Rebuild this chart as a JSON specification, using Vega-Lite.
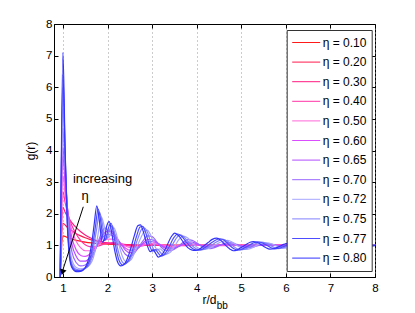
{
"$schema":"https://vega.github.io/schema/vega-lite/v6.json",
"width":321,"height":253,
"autosize":{"type":"none"},
"padding":{"left":54,"top":24,"right":40,"bottom":36},
"config":{"font":"Liberation Sans","view":{"stroke":"#000","strokeWidth":1},
"axis":{"labelFont":"Liberation Sans","titleFont":"Liberation Sans","labelFontSize":11.5,"titleFontSize":12,"titleFontWeight":"normal","labelColor":"#000","titleColor":"#000","domainColor":"#000","tickColor":"#000"}},
"resolve":{"axis":{"x":"independent","y":"independent"}},
"layer":[
{"data":{"values":[
{"eta":"0.10","r":0.94,"g":0},{"eta":"0.10","r":1.0,"g":1.3},{"eta":"0.10","r":1.1,"g":1.25},{"eta":"0.10","r":1.2,"g":1.2},{"eta":"0.10","r":1.3,"g":1.16},{"eta":"0.10","r":1.4,"g":1.13},{"eta":"0.10","r":1.5,"g":1.1},{"eta":"0.10","r":1.7,"g":1.07},{"eta":"0.10","r":2.0,"g":1.04},{"eta":"0.10","r":2.5,"g":1.01},{"eta":"0.10","r":3.0,"g":1.0},{"eta":"0.10","r":4.0,"g":1.0},{"eta":"0.10","r":6.0,"g":1.0},{"eta":"0.10","r":8.0,"g":1.0},
{"eta":"0.20","r":0.94,"g":0},{"eta":"0.20","r":1.0,"g":1.7},{"eta":"0.20","r":1.1,"g":1.57},{"eta":"0.20","r":1.2,"g":1.46},{"eta":"0.20","r":1.3,"g":1.37},{"eta":"0.20","r":1.4,"g":1.3},{"eta":"0.20","r":1.5,"g":1.24},{"eta":"0.20","r":1.6,"g":1.19},{"eta":"0.20","r":1.8,"g":1.12},{"eta":"0.20","r":2.0,"g":1.07},{"eta":"0.20","r":2.2,"g":1.04},{"eta":"0.20","r":2.5,"g":1.02},{"eta":"0.20","r":3.0,"g":1.0},{"eta":"0.20","r":4.0,"g":1.0},{"eta":"0.20","r":6.0,"g":1.0},{"eta":"0.20","r":8.0,"g":1.0},
{"eta":"0.30","r":0.94,"g":0},{"eta":"0.30","r":1.0,"g":2.2},{"eta":"0.30","r":1.05,"g":2.05},{"eta":"0.30","r":1.1,"g":1.92},{"eta":"0.30","r":1.2,"g":1.72},{"eta":"0.30","r":1.3,"g":1.56},{"eta":"0.30","r":1.4,"g":1.43},{"eta":"0.30","r":1.5,"g":1.33},{"eta":"0.30","r":1.6,"g":1.25},{"eta":"0.30","r":1.8,"g":1.13},{"eta":"0.30","r":2.0,"g":1.07},{"eta":"0.30","r":2.2,"g":1.04},{"eta":"0.30","r":2.5,"g":1.02},{"eta":"0.30","r":3.0,"g":1.0},{"eta":"0.30","r":4.0,"g":1.0},{"eta":"0.30","r":6.0,"g":1.0},{"eta":"0.30","r":8.0,"g":1.0},
{"eta":"0.40","r":0.94,"g":0},{"eta":"0.40","r":1.0,"g":2.7},{"eta":"0.40","r":1.05,"g":2.35},{"eta":"0.40","r":1.1,"g":2.05},{"eta":"0.40","r":1.15,"g":1.82},{"eta":"0.40","r":1.2,"g":1.63},{"eta":"0.40","r":1.3,"g":1.35},{"eta":"0.40","r":1.4,"g":1.15},{"eta":"0.40","r":1.5,"g":1.02},{"eta":"0.40","r":1.6,"g":0.96},{"eta":"0.40","r":1.7,"g":0.95},{"eta":"0.40","r":1.8,"g":0.98},{"eta":"0.40","r":1.9,"g":1.03},{"eta":"0.40","r":2.0,"g":1.07},{"eta":"0.40","r":2.1,"g":1.09},{"eta":"0.40","r":2.2,"g":1.08},{"eta":"0.40","r":2.3,"g":1.05},{"eta":"0.40","r":2.4,"g":1.01},{"eta":"0.40","r":2.6,"g":0.97},{"eta":"0.40","r":2.8,"g":0.99},{"eta":"0.40","r":3.0,"g":1.02},{"eta":"0.40","r":3.2,"g":1.01},{"eta":"0.40","r":3.5,"g":0.99},{"eta":"0.40","r":4.0,"g":1.0},{"eta":"0.40","r":6.0,"g":1.0},{"eta":"0.40","r":8.0,"g":1.0},
{"eta":"0.50","r":0.94,"g":0},{"eta":"0.50","r":1.0,"g":3.2},{"eta":"0.50","r":1.05,"g":2.6},{"eta":"0.50","r":1.1,"g":2.1},{"eta":"0.50","r":1.15,"g":1.75},{"eta":"0.50","r":1.2,"g":1.48},{"eta":"0.50","r":1.3,"g":1.12},{"eta":"0.50","r":1.4,"g":0.92},{"eta":"0.50","r":1.5,"g":0.83},{"eta":"0.50","r":1.6,"g":0.83},{"eta":"0.50","r":1.7,"g":0.9},{"eta":"0.50","r":1.8,"g":1.02},{"eta":"0.50","r":1.9,"g":1.13},{"eta":"0.50","r":2.0,"g":1.2},{"eta":"0.50","r":2.1,"g":1.2},{"eta":"0.50","r":2.2,"g":1.14},{"eta":"0.50","r":2.3,"g":1.06},{"eta":"0.50","r":2.4,"g":0.98},{"eta":"0.50","r":2.5,"g":0.93},{"eta":"0.50","r":2.6,"g":0.92},{"eta":"0.50","r":2.7,"g":0.95},{"eta":"0.50","r":2.8,"g":1.0},{"eta":"0.50","r":2.9,"g":1.05},{"eta":"0.50","r":3.0,"g":1.06},{"eta":"0.50","r":3.1,"g":1.05},{"eta":"0.50","r":3.2,"g":1.02},{"eta":"0.50","r":3.4,"g":0.97},{"eta":"0.50","r":3.6,"g":0.99},{"eta":"0.50","r":3.8,"g":1.02},{"eta":"0.50","r":4.0,"g":1.01},{"eta":"0.50","r":4.5,"g":0.99},{"eta":"0.50","r":5.0,"g":1.0},{"eta":"0.50","r":6.0,"g":1.0},{"eta":"0.50","r":8.0,"g":1.0},
{"eta":"0.60","r":0.94,"g":0},{"eta":"0.60","r":1.0,"g":3.8},{"eta":"0.60","r":1.05,"g":2.95},{"eta":"0.60","r":1.1,"g":2.2},{"eta":"0.60","r":1.15,"g":1.65},{"eta":"0.60","r":1.2,"g":1.25},{"eta":"0.60","r":1.3,"g":0.85},{"eta":"0.60","r":1.4,"g":0.68},{"eta":"0.60","r":1.5,"g":0.65},{"eta":"0.60","r":1.6,"g":0.72},{"eta":"0.60","r":1.7,"g":0.88},{"eta":"0.60","r":1.8,"g":1.08},{"eta":"0.60","r":1.9,"g":1.27},{"eta":"0.60","r":2.0,"g":1.35},{"eta":"0.60","r":2.1,"g":1.32},{"eta":"0.60","r":2.2,"g":1.2},{"eta":"0.60","r":2.3,"g":1.05},{"eta":"0.60","r":2.4,"g":0.92},{"eta":"0.60","r":2.5,"g":0.85},{"eta":"0.60","r":2.6,"g":0.86},{"eta":"0.60","r":2.7,"g":0.94},{"eta":"0.60","r":2.8,"g":1.04},{"eta":"0.60","r":2.9,"g":1.11},{"eta":"0.60","r":3.0,"g":1.12},{"eta":"0.60","r":3.1,"g":1.08},{"eta":"0.60","r":3.2,"g":1.01},{"eta":"0.60","r":3.3,"g":0.95},{"eta":"0.60","r":3.4,"g":0.92},{"eta":"0.60","r":3.5,"g":0.93},{"eta":"0.60","r":3.6,"g":0.97},{"eta":"0.60","r":3.7,"g":1.02},{"eta":"0.60","r":3.8,"g":1.06},{"eta":"0.60","r":3.9,"g":1.06},{"eta":"0.60","r":4.0,"g":1.03},{"eta":"0.60","r":4.2,"g":0.97},{"eta":"0.60","r":4.4,"g":0.98},{"eta":"0.60","r":4.6,"g":1.02},{"eta":"0.60","r":4.8,"g":1.02},{"eta":"0.60","r":5.0,"g":0.99},{"eta":"0.60","r":5.5,"g":1.01},{"eta":"0.60","r":6.0,"g":1.0},{"eta":"0.60","r":8.0,"g":1.0},
{"eta":"0.65","r":0.94,"g":0},{"eta":"0.65","r":1.0,"g":4.1},{"eta":"0.65","r":1.05,"g":3.1},{"eta":"0.65","r":1.1,"g":2.2},{"eta":"0.65","r":1.15,"g":1.5},{"eta":"0.65","r":1.2,"g":1.05},{"eta":"0.65","r":1.3,"g":0.65},{"eta":"0.65","r":1.4,"g":0.5},{"eta":"0.65","r":1.5,"g":0.5},{"eta":"0.65","r":1.6,"g":0.6},{"eta":"0.65","r":1.7,"g":0.8},{"eta":"0.65","r":1.8,"g":1.1},{"eta":"0.65","r":1.9,"g":1.35},{"eta":"0.65","r":2.0,"g":1.45},{"eta":"0.65","r":2.1,"g":1.4},{"eta":"0.65","r":2.2,"g":1.25},{"eta":"0.65","r":2.3,"g":1.05},{"eta":"0.65","r":2.4,"g":0.85},{"eta":"0.65","r":2.5,"g":0.77},{"eta":"0.65","r":2.6,"g":0.8},{"eta":"0.65","r":2.7,"g":0.93},{"eta":"0.65","r":2.8,"g":1.08},{"eta":"0.65","r":2.9,"g":1.18},{"eta":"0.65","r":3.0,"g":1.18},{"eta":"0.65","r":3.1,"g":1.1},{"eta":"0.65","r":3.2,"g":0.99},{"eta":"0.65","r":3.3,"g":0.91},{"eta":"0.65","r":3.4,"g":0.88},{"eta":"0.65","r":3.5,"g":0.9},{"eta":"0.65","r":3.6,"g":0.97},{"eta":"0.65","r":3.7,"g":1.05},{"eta":"0.65","r":3.8,"g":1.1},{"eta":"0.65","r":3.9,"g":1.1},{"eta":"0.65","r":4.0,"g":1.05},{"eta":"0.65","r":4.1,"g":0.99},{"eta":"0.65","r":4.2,"g":0.95},{"eta":"0.65","r":4.3,"g":0.94},{"eta":"0.65","r":4.4,"g":0.96},{"eta":"0.65","r":4.5,"g":1.0},{"eta":"0.65","r":4.6,"g":1.04},{"eta":"0.65","r":4.7,"g":1.05},{"eta":"0.65","r":4.8,"g":1.04},{"eta":"0.65","r":4.9,"g":1.01},{"eta":"0.65","r":5.0,"g":0.98},{"eta":"0.65","r":5.2,"g":0.96},{"eta":"0.65","r":5.4,"g":1.0},{"eta":"0.65","r":5.6,"g":1.03},{"eta":"0.65","r":5.8,"g":1.0},{"eta":"0.65","r":6.0,"g":0.98},{"eta":"0.65","r":6.5,"g":1.02},{"eta":"0.65","r":7.0,"g":0.99},{"eta":"0.65","r":7.5,"g":1.01},{"eta":"0.65","r":8.0,"g":1.0},
{"eta":"0.70","r":0.94,"g":0},{"eta":"0.70","r":1.0,"g":4.7},{"eta":"0.70","r":1.05,"g":3.4},{"eta":"0.70","r":1.1,"g":2.2},{"eta":"0.70","r":1.15,"g":1.3},{"eta":"0.70","r":1.2,"g":0.8},{"eta":"0.70","r":1.3,"g":0.45},{"eta":"0.70","r":1.4,"g":0.35},{"eta":"0.70","r":1.5,"g":0.38},{"eta":"0.70","r":1.6,"g":0.5},{"eta":"0.70","r":1.7,"g":0.75},{"eta":"0.70","r":1.8,"g":1.15},{"eta":"0.70","r":1.9,"g":1.5},{"eta":"0.70","r":1.95,"g":1.55},{"eta":"0.70","r":2.0,"g":1.48},{"eta":"0.70","r":2.05,"g":1.45},{"eta":"0.70","r":2.1,"g":1.45},{"eta":"0.70","r":2.2,"g":1.25},{"eta":"0.70","r":2.3,"g":0.95},{"eta":"0.70","r":2.4,"g":0.72},{"eta":"0.70","r":2.5,"g":0.65},{"eta":"0.70","r":2.6,"g":0.75},{"eta":"0.70","r":2.7,"g":0.95},{"eta":"0.70","r":2.8,"g":1.15},{"eta":"0.70","r":2.9,"g":1.3},{"eta":"0.70","r":3.0,"g":1.28},{"eta":"0.70","r":3.1,"g":1.12},{"eta":"0.70","r":3.2,"g":0.95},{"eta":"0.70","r":3.3,"g":0.85},{"eta":"0.70","r":3.4,"g":0.83},{"eta":"0.70","r":3.5,"g":0.88},{"eta":"0.70","r":3.6,"g":0.98},{"eta":"0.70","r":3.7,"g":1.1},{"eta":"0.70","r":3.8,"g":1.18},{"eta":"0.70","r":3.9,"g":1.16},{"eta":"0.70","r":4.0,"g":1.08},{"eta":"0.70","r":4.1,"g":0.98},{"eta":"0.70","r":4.2,"g":0.92},{"eta":"0.70","r":4.3,"g":0.9},{"eta":"0.70","r":4.4,"g":0.93},{"eta":"0.70","r":4.5,"g":0.99},{"eta":"0.70","r":4.6,"g":1.05},{"eta":"0.70","r":4.7,"g":1.09},{"eta":"0.70","r":4.8,"g":1.08},{"eta":"0.70","r":4.9,"g":1.03},{"eta":"0.70","r":5.0,"g":0.97},{"eta":"0.70","r":5.1,"g":0.93},{"eta":"0.70","r":5.2,"g":0.93},{"eta":"0.70","r":5.3,"g":0.96},{"eta":"0.70","r":5.4,"g":1.01},{"eta":"0.70","r":5.5,"g":1.05},{"eta":"0.70","r":5.6,"g":1.06},{"eta":"0.70","r":5.7,"g":1.03},{"eta":"0.70","r":5.8,"g":0.99},{"eta":"0.70","r":5.9,"g":0.96},{"eta":"0.70","r":6.0,"g":0.96},{"eta":"0.70","r":6.25,"g":1.02},{"eta":"0.70","r":6.5,"g":1.03},{"eta":"0.70","r":6.75,"g":0.98},{"eta":"0.70","r":7.0,"g":0.98},{"eta":"0.70","r":7.5,"g":1.01},{"eta":"0.70","r":8.0,"g":1.0},
{"eta":"0.72","r":0.94,"g":0},{"eta":"0.72","r":1.0,"g":5.3},{"eta":"0.72","r":1.05,"g":3.6},{"eta":"0.72","r":1.1,"g":2.0},{"eta":"0.72","r":1.15,"g":1.0},{"eta":"0.72","r":1.2,"g":0.55},{"eta":"0.72","r":1.3,"g":0.3},{"eta":"0.72","r":1.4,"g":0.26},{"eta":"0.72","r":1.5,"g":0.28},{"eta":"0.72","r":1.6,"g":0.38},{"eta":"0.72","r":1.68,"g":0.6},{"eta":"0.72","r":1.74,"g":0.95},{"eta":"0.72","r":1.8,"g":1.45},{"eta":"0.72","r":1.86,"g":1.9},{"eta":"0.72","r":1.92,"g":1.65},{"eta":"0.72","r":1.98,"g":1.25},{"eta":"0.72","r":2.03,"g":1.25},{"eta":"0.72","r":2.09,"g":1.45},{"eta":"0.72","r":2.15,"g":1.55},{"eta":"0.72","r":2.21,"g":1.3},{"eta":"0.72","r":2.28,"g":0.9},{"eta":"0.72","r":2.35,"g":0.6},{"eta":"0.72","r":2.43,"g":0.47},{"eta":"0.72","r":2.53,"g":0.55},{"eta":"0.72","r":2.63,"g":0.85},{"eta":"0.72","r":2.74,"g":1.22},{"eta":"0.72","r":2.83,"g":1.45},{"eta":"0.72","r":2.89,"g":1.48},{"eta":"0.72","r":2.96,"g":1.35},{"eta":"0.72","r":3.04,"g":1.05},{"eta":"0.72","r":3.12,"g":0.86},{"eta":"0.72","r":3.18,"g":0.89},{"eta":"0.72","r":3.24,"g":0.82},{"eta":"0.72","r":3.31,"g":0.72},{"eta":"0.72","r":3.4,"g":0.77},{"eta":"0.72","r":3.5,"g":0.96},{"eta":"0.72","r":3.6,"g":1.18},{"eta":"0.72","r":3.7,"g":1.29},{"eta":"0.72","r":3.8,"g":1.23},{"eta":"0.72","r":3.9,"g":1.08},{"eta":"0.72","r":4.0,"g":0.95},{"eta":"0.72","r":4.1,"g":0.88},{"eta":"0.72","r":4.18,"g":0.87},{"eta":"0.72","r":4.27,"g":0.9},{"eta":"0.72","r":4.38,"g":0.98},{"eta":"0.72","r":4.49,"g":1.07},{"eta":"0.72","r":4.6,"g":1.13},{"eta":"0.72","r":4.7,"g":1.16},{"eta":"0.72","r":4.8,"g":1.1},{"eta":"0.72","r":4.9,"g":1.0},{"eta":"0.72","r":5.0,"g":0.91},{"eta":"0.72","r":5.08,"g":0.87},{"eta":"0.72","r":5.18,"g":0.89},{"eta":"0.72","r":5.28,"g":0.95},{"eta":"0.72","r":5.39,"g":1.03},{"eta":"0.72","r":5.5,"g":1.07},{"eta":"0.72","r":5.58,"g":1.08},{"eta":"0.72","r":5.68,"g":1.05},{"eta":"0.72","r":5.78,"g":0.99},{"eta":"0.72","r":5.88,"g":0.93},{"eta":"0.72","r":5.98,"g":0.91},{"eta":"0.72","r":6.1,"g":0.94},{"eta":"0.72","r":6.25,"g":1.02},{"eta":"0.72","r":6.4,"g":1.05},{"eta":"0.72","r":6.6,"g":1.0},{"eta":"0.72","r":6.8,"g":0.96},{"eta":"0.72","r":7.0,"g":0.99},{"eta":"0.72","r":7.25,"g":1.03},{"eta":"0.72","r":7.5,"g":1.0},{"eta":"0.72","r":7.75,"g":0.98},{"eta":"0.72","r":8.0,"g":1.0},
{"eta":"0.75","r":0.94,"g":0},{"eta":"0.75","r":1.0,"g":6.0},{"eta":"0.75","r":1.05,"g":3.8},{"eta":"0.75","r":1.1,"g":1.8},{"eta":"0.75","r":1.15,"g":0.8},{"eta":"0.75","r":1.2,"g":0.42},{"eta":"0.75","r":1.3,"g":0.24},{"eta":"0.75","r":1.4,"g":0.22},{"eta":"0.75","r":1.5,"g":0.27},{"eta":"0.75","r":1.6,"g":0.42},{"eta":"0.75","r":1.65,"g":0.65},{"eta":"0.75","r":1.7,"g":1.05},{"eta":"0.75","r":1.76,"g":1.55},{"eta":"0.75","r":1.82,"g":2.05},{"eta":"0.75","r":1.88,"g":1.72},{"eta":"0.75","r":1.94,"g":1.2},{"eta":"0.75","r":1.99,"g":1.22},{"eta":"0.75","r":2.05,"g":1.5},{"eta":"0.75","r":2.11,"g":1.62},{"eta":"0.75","r":2.17,"g":1.32},{"eta":"0.75","r":2.23,"g":0.88},{"eta":"0.75","r":2.3,"g":0.56},{"eta":"0.75","r":2.38,"g":0.42},{"eta":"0.75","r":2.48,"g":0.5},{"eta":"0.75","r":2.58,"g":0.82},{"eta":"0.75","r":2.69,"g":1.25},{"eta":"0.75","r":2.77,"g":1.52},{"eta":"0.75","r":2.83,"g":1.55},{"eta":"0.75","r":2.9,"g":1.4},{"eta":"0.75","r":2.98,"g":1.05},{"eta":"0.75","r":3.06,"g":0.84},{"eta":"0.75","r":3.12,"g":0.88},{"eta":"0.75","r":3.18,"g":0.79},{"eta":"0.75","r":3.25,"g":0.69},{"eta":"0.75","r":3.33,"g":0.74},{"eta":"0.75","r":3.43,"g":0.95},{"eta":"0.75","r":3.53,"g":1.2},{"eta":"0.75","r":3.63,"g":1.33},{"eta":"0.75","r":3.72,"g":1.26},{"eta":"0.75","r":3.82,"g":1.1},{"eta":"0.75","r":3.93,"g":0.95},{"eta":"0.75","r":4.03,"g":0.87},{"eta":"0.75","r":4.1,"g":0.86},{"eta":"0.75","r":4.19,"g":0.89},{"eta":"0.75","r":4.29,"g":0.97},{"eta":"0.75","r":4.4,"g":1.07},{"eta":"0.75","r":4.5,"g":1.15},{"eta":"0.75","r":4.6,"g":1.19},{"eta":"0.75","r":4.7,"g":1.12},{"eta":"0.75","r":4.8,"g":1.0},{"eta":"0.75","r":4.9,"g":0.9},{"eta":"0.75","r":4.98,"g":0.86},{"eta":"0.75","r":5.08,"g":0.88},{"eta":"0.75","r":5.18,"g":0.95},{"eta":"0.75","r":5.28,"g":1.03},{"eta":"0.75","r":5.38,"g":1.08},{"eta":"0.75","r":5.45,"g":1.1},{"eta":"0.75","r":5.55,"g":1.07},{"eta":"0.75","r":5.65,"g":1.0},{"eta":"0.75","r":5.75,"g":0.93},{"eta":"0.75","r":5.83,"g":0.9},{"eta":"0.75","r":5.93,"g":0.92},{"eta":"0.75","r":6.05,"g":0.98},{"eta":"0.75","r":6.15,"g":1.04},{"eta":"0.75","r":6.3,"g":1.06},{"eta":"0.75","r":6.5,"g":1.0},{"eta":"0.75","r":6.75,"g":0.96},{"eta":"0.75","r":7.0,"g":1.02},{"eta":"0.75","r":7.25,"g":1.03},{"eta":"0.75","r":7.5,"g":0.98},{"eta":"0.75","r":7.75,"g":0.99},{"eta":"0.75","r":8.0,"g":1.01},
{"eta":"0.77","r":0.94,"g":0},{"eta":"0.77","r":1.0,"g":6.4},{"eta":"0.77","r":1.05,"g":3.9},{"eta":"0.77","r":1.1,"g":1.7},{"eta":"0.77","r":1.15,"g":0.7},{"eta":"0.77","r":1.2,"g":0.35},{"eta":"0.77","r":1.3,"g":0.2},{"eta":"0.77","r":1.4,"g":0.2},{"eta":"0.77","r":1.5,"g":0.28},{"eta":"0.77","r":1.58,"g":0.45},{"eta":"0.77","r":1.63,"g":0.7},{"eta":"0.77","r":1.68,"g":1.1},{"eta":"0.77","r":1.73,"g":1.6},{"eta":"0.77","r":1.79,"g":2.15},{"eta":"0.77","r":1.85,"g":1.75},{"eta":"0.77","r":1.91,"g":1.15},{"eta":"0.77","r":1.96,"g":1.2},{"eta":"0.77","r":2.02,"g":1.55},{"eta":"0.77","r":2.08,"g":1.7},{"eta":"0.77","r":2.14,"g":1.35},{"eta":"0.77","r":2.2,"g":0.85},{"eta":"0.77","r":2.26,"g":0.52},{"eta":"0.77","r":2.34,"g":0.38},{"eta":"0.77","r":2.44,"g":0.47},{"eta":"0.77","r":2.55,"g":0.8},{"eta":"0.77","r":2.65,"g":1.28},{"eta":"0.77","r":2.73,"g":1.58},{"eta":"0.77","r":2.79,"g":1.6},{"eta":"0.77","r":2.85,"g":1.43},{"eta":"0.77","r":2.93,"g":1.05},{"eta":"0.77","r":3.01,"g":0.82},{"eta":"0.77","r":3.07,"g":0.87},{"eta":"0.77","r":3.13,"g":0.77},{"eta":"0.77","r":3.2,"g":0.66},{"eta":"0.77","r":3.28,"g":0.72},{"eta":"0.77","r":3.38,"g":0.95},{"eta":"0.77","r":3.48,"g":1.23},{"eta":"0.77","r":3.58,"g":1.36},{"eta":"0.77","r":3.67,"g":1.28},{"eta":"0.77","r":3.77,"g":1.1},{"eta":"0.77","r":3.87,"g":0.94},{"eta":"0.77","r":3.97,"g":0.86},{"eta":"0.77","r":4.05,"g":0.85},{"eta":"0.77","r":4.13,"g":0.88},{"eta":"0.77","r":4.23,"g":0.97},{"eta":"0.77","r":4.33,"g":1.08},{"eta":"0.77","r":4.43,"g":1.17},{"eta":"0.77","r":4.53,"g":1.21},{"eta":"0.77","r":4.64,"g":1.14},{"eta":"0.77","r":4.74,"g":1.0},{"eta":"0.77","r":4.84,"g":0.89},{"eta":"0.77","r":4.91,"g":0.85},{"eta":"0.77","r":5.0,"g":0.87},{"eta":"0.77","r":5.1,"g":0.94},{"eta":"0.77","r":5.2,"g":1.02},{"eta":"0.77","r":5.3,"g":1.09},{"eta":"0.77","r":5.37,"g":1.11},{"eta":"0.77","r":5.45,"g":1.09},{"eta":"0.77","r":5.55,"g":1.02},{"eta":"0.77","r":5.65,"g":0.94},{"eta":"0.77","r":5.75,"g":0.89},{"eta":"0.77","r":5.85,"g":0.91},{"eta":"0.77","r":5.96,"g":0.97},{"eta":"0.77","r":6.07,"g":1.04},{"eta":"0.77","r":6.17,"g":1.07},{"eta":"0.77","r":6.3,"g":1.03},{"eta":"0.77","r":6.5,"g":0.95},{"eta":"0.77","r":6.75,"g":1.02},{"eta":"0.77","r":7.0,"g":1.04},{"eta":"0.77","r":7.25,"g":0.98},{"eta":"0.77","r":7.5,"g":0.98},{"eta":"0.77","r":7.75,"g":1.02},{"eta":"0.77","r":8.0,"g":1.0},
{"eta":"0.80","r":0.94,"g":0},{"eta":"0.80","r":1.0,"g":7.1},{"eta":"0.80","r":1.05,"g":4.0},{"eta":"0.80","r":1.1,"g":1.6},{"eta":"0.80","r":1.15,"g":0.6},{"eta":"0.80","r":1.2,"g":0.3},{"eta":"0.80","r":1.3,"g":0.17},{"eta":"0.80","r":1.4,"g":0.18},{"eta":"0.80","r":1.5,"g":0.3},{"eta":"0.80","r":1.55,"g":0.45},{"eta":"0.80","r":1.6,"g":0.7},{"eta":"0.80","r":1.65,"g":1.1},{"eta":"0.80","r":1.7,"g":1.65},{"eta":"0.80","r":1.76,"g":2.25},{"eta":"0.80","r":1.82,"g":1.75},{"eta":"0.80","r":1.88,"g":1.1},{"eta":"0.80","r":1.93,"g":1.2},{"eta":"0.80","r":1.98,"g":1.6},{"eta":"0.80","r":2.04,"g":1.75},{"eta":"0.80","r":2.1,"g":1.35},{"eta":"0.80","r":2.16,"g":0.85},{"eta":"0.80","r":2.22,"g":0.5},{"eta":"0.80","r":2.3,"g":0.35},{"eta":"0.80","r":2.4,"g":0.45},{"eta":"0.80","r":2.5,"g":0.8},{"eta":"0.80","r":2.6,"g":1.3},{"eta":"0.80","r":2.68,"g":1.62},{"eta":"0.80","r":2.74,"g":1.65},{"eta":"0.80","r":2.8,"g":1.45},{"eta":"0.80","r":2.88,"g":1.05},{"eta":"0.80","r":2.96,"g":0.8},{"eta":"0.80","r":3.02,"g":0.86},{"eta":"0.80","r":3.08,"g":0.75},{"eta":"0.80","r":3.14,"g":0.63},{"eta":"0.80","r":3.22,"g":0.7},{"eta":"0.80","r":3.32,"g":0.95},{"eta":"0.80","r":3.42,"g":1.25},{"eta":"0.80","r":3.51,"g":1.39},{"eta":"0.80","r":3.6,"g":1.3},{"eta":"0.80","r":3.7,"g":1.1},{"eta":"0.80","r":3.8,"g":0.93},{"eta":"0.80","r":3.9,"g":0.85},{"eta":"0.80","r":3.97,"g":0.84},{"eta":"0.80","r":4.05,"g":0.87},{"eta":"0.80","r":4.15,"g":0.97},{"eta":"0.80","r":4.25,"g":1.08},{"eta":"0.80","r":4.35,"g":1.19},{"eta":"0.80","r":4.45,"g":1.23},{"eta":"0.80","r":4.55,"g":1.15},{"eta":"0.80","r":4.65,"g":1.0},{"eta":"0.80","r":4.75,"g":0.88},{"eta":"0.80","r":4.82,"g":0.83},{"eta":"0.80","r":4.9,"g":0.85},{"eta":"0.80","r":5.0,"g":0.93},{"eta":"0.80","r":5.1,"g":1.02},{"eta":"0.80","r":5.2,"g":1.1},{"eta":"0.80","r":5.27,"g":1.12},{"eta":"0.80","r":5.35,"g":1.1},{"eta":"0.80","r":5.45,"g":1.02},{"eta":"0.80","r":5.55,"g":0.93},{"eta":"0.80","r":5.64,"g":0.88},{"eta":"0.80","r":5.75,"g":0.9},{"eta":"0.80","r":5.85,"g":0.96},{"eta":"0.80","r":5.95,"g":1.03},{"eta":"0.80","r":6.05,"g":1.07},{"eta":"0.80","r":6.15,"g":1.06},{"eta":"0.80","r":6.25,"g":1.01},{"eta":"0.80","r":6.45,"g":0.93},{"eta":"0.80","r":6.65,"g":1.0},{"eta":"0.80","r":6.85,"g":1.05},{"eta":"0.80","r":7.05,"g":0.99},{"eta":"0.80","r":7.25,"g":0.96},{"eta":"0.80","r":7.45,"g":1.02},{"eta":"0.80","r":7.65,"g":1.02},{"eta":"0.80","r":7.85,"g":0.97},{"eta":"0.80","r":8.0,"g":0.99}
]},
"mark":{"type":"line","interpolate":"monotone","strokeWidth":1.2,"clip":true},
"encoding":{
"x":{"field":"r","type":"quantitative","scale":{"domain":[0.8,8],"nice":false,"zero":false},
"axis":{"values":[1,2,3,4,5,6,7,8],"grid":true,"gridDash":[1,3],"gridColor":"#999","tickSize":-4,"labelPadding":9,"labelFlush":false,"title":"r/d","titleX":155,"titleY":26,"titleAlign":"center","titleBaseline":"alphabetic"}},
"y":{"field":"g","type":"quantitative","scale":{"domain":[0,8],"nice":false,"zero":false},
"axis":{"values":[0,1,2,3,4,5,6,7,8],"grid":false,"tickSize":-4,"labelPadding":6,"labelFlush":false,"title":"g(r)","titleX":-17,"titleY":126.5,"titleAlign":"center","titleBaseline":"bottom","titleAngle":-90}},
"color":{"field":"eta","type":"nominal","scale":{"domain":["0.10","0.20","0.30","0.40","0.50","0.60","0.65","0.70","0.72","0.75","0.77","0.80"],"range":["#ff1a1a","#ff1a4d","#ff1a80","#ff33a6","#ff66d9","#d94dff","#b34dff","#9966ff","#a6a6ff","#8080ff","#4d4dff","#3333ff"]},
"legend":{"title":null,"orient":"none","legendX":232.7,"legendY":6,"padding":5,"strokeColor":"#333","fillColor":"white","symbolType":"stroke","symbolSize":784,"symbolStrokeWidth":1,"clipHeight":15,"rowPadding":4.6,"labelOffset":2,"labelFontSize":12,"labelFont":"Liberation Sans","labelColor":"#000","labelExpr":"'η = ' + datum.label"}}
}},
{"data":{"values":[{}]},
"mark":{"type":"text","text":"increasing","font":"Liberation Sans","fontSize":13,"align":"center","baseline":"alphabetic","color":"#000"},
"encoding":{"x":{"datum":1.888,"type":"quantitative","scale":{"domain":[0.8,8],"nice":false,"zero":false},"axis":{"orient":"top","labels":false,"grid":false,"domain":false,"tickSize":-4,"values":[1,2,3,4,5,6,7,8],"title":null}},
"y":{"datum":2.96,"type":"quantitative","scale":{"domain":[0,8],"nice":false,"zero":false},"axis":{"orient":"right","labels":false,"grid":false,"domain":false,"tickSize":-4,"values":[0,1,2,3,4,5,6,7,8],"title":null}}}},
{"data":{"values":[{}]},
"mark":{"type":"text","text":"η","font":"Liberation Sans","fontSize":13,"align":"center","baseline":"alphabetic","color":"#000"},
"encoding":{"x":{"datum":1.495,"type":"quantitative","axis":null},"y":{"datum":2.44,"type":"quantitative","axis":null}}},
{"data":{"values":[{}]},
"mark":{"type":"rule","color":"#000","strokeWidth":1},
"encoding":{"x":{"datum":1.457,"type":"quantitative","axis":null},"y":{"datum":2.22,"type":"quantitative","axis":null},"x2":{"datum":0.998},"y2":{"datum":0.22}}},
{"data":{"values":[{}]},
"mark":{"type":"point","shape":"triangle-up","filled":true,"color":"#000","size":45,"angle":197.6,"opacity":1},
"encoding":{"x":{"datum":0.99,"type":"quantitative","axis":null},"y":{"datum":0.15,"type":"quantitative","axis":null}}},
{"data":{"values":[{}]},
"mark":{"type":"text","text":"bb","font":"Liberation Sans","fontSize":10,"align":"left","baseline":"alphabetic","color":"#000"},
"encoding":{"x":{"datum":4.45,"type":"quantitative","axis":null},"y":{"datum":-1.01,"type":"quantitative","axis":null}}}
]
}
